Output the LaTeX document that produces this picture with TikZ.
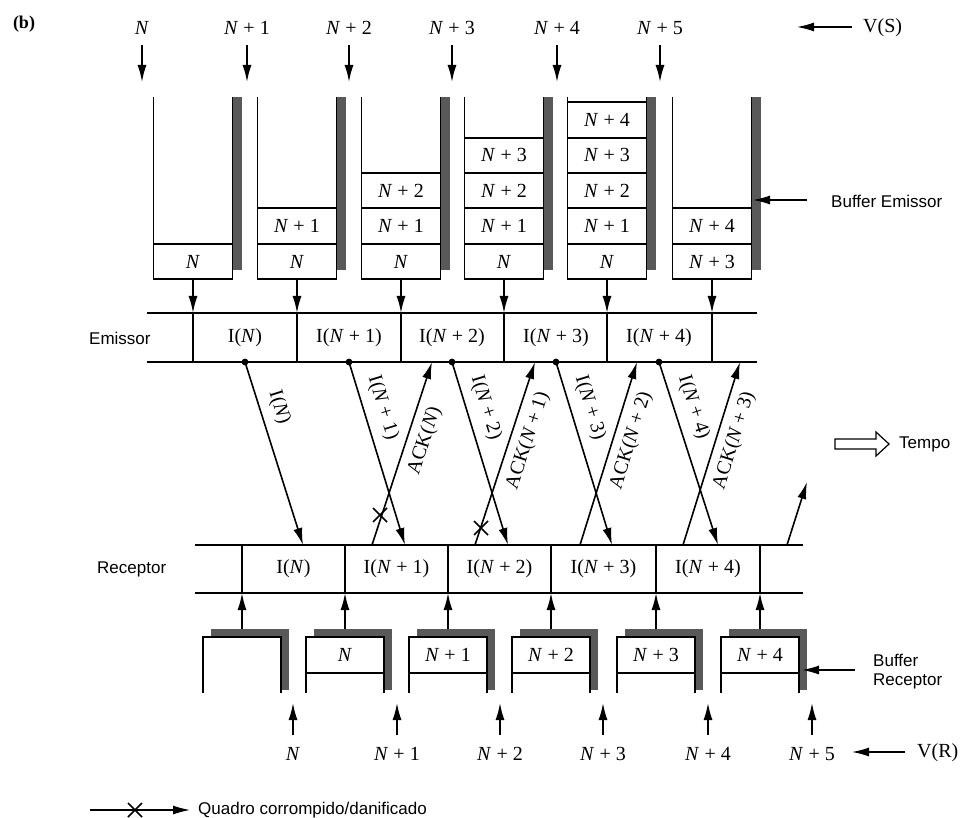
\documentclass[tikz,border=0pt]{standalone}
\usepackage{fontspec}
\setmainfont{Liberation Serif}
\newfontfamily\sansf{Liberation Sans}
\usetikzlibrary{arrows.meta}
\newcommand{\vN}{\textit{N}}
\newcommand{\xmark}[1]{\draw[ln] ([shift={(-7,-7)}]#1) -- ([shift={(7,7)}]#1); \draw[ln] ([shift={(-7,7)}]#1) -- ([shift={(7,-7)}]#1);}
\begin{document}
\begin{tikzpicture}[x=1pt,y=-1pt,
  ln/.style={line width=1.6pt},
  arr/.style={ln,-{Latex[length=17pt,width=9pt]}},
  thin arr/.style={line width=1.3pt,-{Latex[length=17pt,width=9pt]}},
  shadebar/.style={fill=black!65},
  lab/.style={font=\fontsize{20}{24}\selectfont, inner sep=1pt},
  slab/.style={font=\sansf\fontsize{17}{21}\selectfont, inner sep=1pt, align=left},
]
\useasboundingbox (0,0) rectangle (972,818);

\node[font=\bfseries\fontsize{18}{22}\selectfont] (blabel) at (24,24) {(b)};

% ---------- top labels and arrows ----------
\foreach \x/\t [count=\i] in {142/{\vN},247/{\vN{} + 1},349/{\vN{} + 2},452/{\vN{} + 3},557/{\vN{} + 4},660/{\vN{} + 5}}{
  \node[lab] (t\i) at (\x,28) {\t};
  \coordinate (ts\i) at (\x,45);
  \coordinate (te\i) at (\x,82);
  \draw[arr] (ts\i) -- (te\i);
}
\node[lab, anchor=west] (vs) at (862,28) {V(S)};
\coordinate (vsa) at (797,27);
\coordinate (vss) at (852,27);
\draw[thin arr] (vss) -- (vsa);

% ---------- top buffers ----------
\foreach \c [count=\i] in {193,297,401,504,607,712}{
  \pgfmathsetmacro{\L}{\c-39.5}
  \pgfmathsetmacro{\R}{\c+39.5}
  \fill[shadebar] (\R,97) rectangle (\R+9,270);
  \draw[ln] (\L,97) -- (\L,279) -- (\R,279) -- (\R,97);
  \coordinate (bb\i) at (\c,279);
  \coordinate (et\i) at (\c,313);
  \coordinate (eb\i) at (\c,362);
  \draw[arr] (bb\i) -- (et\i);
  \draw[ln] (et\i) -- (eb\i);
}
% cell lines
\foreach \c/\ys in {193/{244}, 297/{208,244}, 401/{173,208,244}, 504/{138,173,208,244}, 607/{102,138,173,208,244}, 712/{208,244}}{
  \foreach \y in \ys { \draw[ln] (\c-39.5,\y) -- (\c+39.5,\y); }
}
% cell labels
\foreach \c/\y/\t [count=\i] in {
  193/262/{\vN},
  297/262/{\vN}, 297/226/{\vN{} + 1},
  401/262/{\vN}, 401/226/{\vN{} + 1}, 401/191/{\vN{} + 2},
  504/262/{\vN}, 504/226/{\vN{} + 1}, 504/191/{\vN{} + 2}, 504/155/{\vN{} + 3},
  607/262/{\vN}, 607/226/{\vN{} + 1}, 607/191/{\vN{} + 2}, 607/155/{\vN{} + 3}, 607/120/{\vN{} + 4},
  712/262/{\vN{} + 3}, 712/226/{\vN{} + 4}}{
  \node[lab] (sc\i) at (\c,\y) {\t};
}
\node[slab, anchor=west] (bem) at (830,201) {Buffer Emissor};
\coordinate (bema) at (753,200);
\coordinate (bems) at (807,200);
\draw[thin arr] (bems) -- (bema);

% ---------- emissor row ----------
\coordinate (el1) at (147,313); \coordinate (er1) at (757,313);
\coordinate (el2) at (147,362); \coordinate (er2) at (757,362);
\draw[ln] (el1) -- (er1);
\draw[ln] (el2) -- (er2);
\node[slab, anchor=west] (emi) at (88,338) {Emissor};
\foreach \x/\t [count=\i] in {245/{I(\vN)},349/{I(\vN{} + 1)},452/{I(\vN{} + 2)},556/{I(\vN{} + 3)},659/{I(\vN{} + 4)}}{
  \node[lab] (ec\i) at (\x,338) {\t};
  \coordinate (d\i) at (\x,362);
  \fill (d\i) circle (3.4);
}

% ---------- receptor row ----------
\coordinate (rl1) at (195,545); \coordinate (rr1) at (803,545);
\coordinate (rl2) at (195,593); \coordinate (rr2) at (803,593);
\draw[ln] (rl1) -- (rr1);
\draw[ln] (rl2) -- (rr2);
\node[slab, anchor=west] (rec) at (96,569) {Receptor};
\foreach \x/\t [count=\i] in {293.5/{I(\vN)},396.5/{I(\vN{} + 1)},499.5/{I(\vN{} + 2)},603.5/{I(\vN{} + 3)},708/{I(\vN{} + 4)}}{
  \node[lab] (rc\i) at (\x,569) {\t};
}

% ---------- frames and acks ----------
\foreach \xs/\xe/\t [count=\i] in {245/303/{I(\vN)},349/405/{I(\vN{} + 1)},452/508/{I(\vN{} + 2)},556/612/{I(\vN{} + 3)},659/718/{I(\vN{} + 4)}}{
  \coordinate (fe\i) at (\xe,545);
  \draw[arr] (d\i) -- node[lab, pos=0.28, sloped, above=8pt] (fl\i) {\t} (fe\i);
}
\foreach \xs/\xe/\t [count=\i] in {372/432/{ACK(\vN)},475/535/{ACK(\vN{} + 1)},580/637/{ACK(\vN{} + 2)},683/740/{ACK(\vN{} + 3)}}{
  \coordinate (as\i) at (\xs,545);
  \coordinate (ae\i) at (\xe,362);
  \draw[arr] (as\i) -- node[lab, pos=0.6, sloped, below=7pt] (al\i) {\t} (ae\i);
}
\coordinate (as5) at (787,545); \coordinate (ae5) at (807,482);
\draw[arr] (as5) -- (ae5);
\coordinate (x1) at (380,515);
\coordinate (x2) at (481,528);
\xmark{x1}
\xmark{x2}

% ---------- tempo ----------
\draw[line width=1.2pt] (835,439) -- (876,439) -- (876,432) -- (889,444) -- (876,456) -- (876,449) -- (835,449) -- cycle;
\node[slab, anchor=west] (tempo) at (898,444) {Tempo};

% ---------- receptor buffers ----------
\foreach \c [count=\i] in {242,345,448,551,656,760}{
  \pgfmathsetmacro{\L}{\c-39}
  \pgfmathsetmacro{\R}{\c+39}
  \fill[shadebar] (\L+8,629) rectangle (\R+8,637);
  \fill[shadebar] (\R,629) rectangle (\R+8,690);
  \draw[ln] (\L,693) -- (\L,637) -- (\R,637) -- (\R,693);
  \coordinate (rb\i) at (\c,629);
  \coordinate (rt\i) at (\c,593);
  \coordinate (rtop\i) at (\c,545);
  \draw[arr] (rb\i) -- (rt\i);
  \draw[ln] (rt\i) -- (rtop\i);
}
\foreach \c/\t [count=\i] in {345/{\vN},448/{\vN{} + 1},551/{\vN{} + 2},656/{\vN{} + 3},760/{\vN{} + 4}}{
  \draw[ln] (\c-39,673) -- (\c+39,673);
  \node[lab] (rbl\i) at (\c,655) {\t};
}
\node[slab, anchor=west] (brec) at (872,672) {Buffer\\[-2pt]Receptor};
\coordinate (breca) at (802,670);
\coordinate (brecs) at (855,670);
\draw[thin arr] (brecs) -- (breca);

% ---------- bottom labels ----------
\foreach \x/\t [count=\i] in {293/{\vN},397/{\vN{} + 1},500/{\vN{} + 2},603/{\vN{} + 3},708/{\vN{} + 4},812/{\vN{} + 5}}{
  \node[lab] (bl\i) at (\x,754) {\t};
  \coordinate (bs\i) at (\x,735);
  \coordinate (be\i) at (\x,703);
  \draw[arr] (bs\i) -- (be\i);
}
\node[lab, anchor=west] (vr) at (916,753) {V(R)};
\coordinate (vra) at (852,752);
\coordinate (vrs) at (905,752);
\draw[thin arr] (vrs) -- (vra);

% ---------- legend ----------
\coordinate (lg1) at (90,810);
\coordinate (lg2) at (190,810);
\draw[thin arr] (lg1) -- (lg2);
\coordinate (lgx) at (135,810);
\xmark{lgx}
\node[slab, anchor=west] (leg) at (197,810) {Quadro corrompido/danificado};
\end{tikzpicture}
\end{document}
